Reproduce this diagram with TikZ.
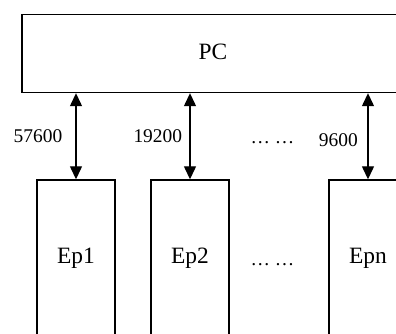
\documentclass[tikz,border=0pt]{standalone}
\usepackage{fontspec}
\setmainfont{Liberation Serif}
\usetikzlibrary{arrows.meta}
\begin{document}
\begin{tikzpicture}[x=1bp,y=-1bp,
  box/.style={draw, line width=1.4bp, inner sep=0pt, font=\fontsize{23.5}{28}\selectfont},
  epbox/.style={box, minimum width=78bp, minimum height=156bp},
  rate/.style={anchor=base, inner sep=0pt, font=\fontsize{19.5}{23}\selectfont},
  link/.style={line width=1.3bp, {Triangle[length=13bp,width=12bp]}-{Triangle[length=13bp,width=12bp]}}]
\useasboundingbox (0,0) rectangle (396,334);
\clip (0,0) rectangle (396,334);
% host computer
\node[box, minimum width=382bp, minimum height=78bp, text height=15.7bp, text depth=4.7bp] (pc) at (213,53.5) {PC};
% end points
\node[epbox] (ep1) at (76,258) {Ep1};
\node[epbox] (ep2) at (190,258) {Ep2};
\node[epbox] (epn) at (368,258) {Epn};
% serial links
\draw[link] (pc.south -| ep1.north) -- (ep1.north);
\draw[link] (pc.south -| ep2.north) -- (ep2.north);
\draw[link] (pc.south -| epn.north) -- (epn.north);
% baud rates
\node[rate] (r1) at (38,142.3) {57600};
\node[rate] (r2) at (157.8,142.3) {19200};
\node[rate] (rn) at (338.3,146) {9600};
\node[rate] (rdots) at (272.5,143) {… …};
\node[rate] (epdots) at (272.5,265) {… …};
\end{tikzpicture}
\end{document}
